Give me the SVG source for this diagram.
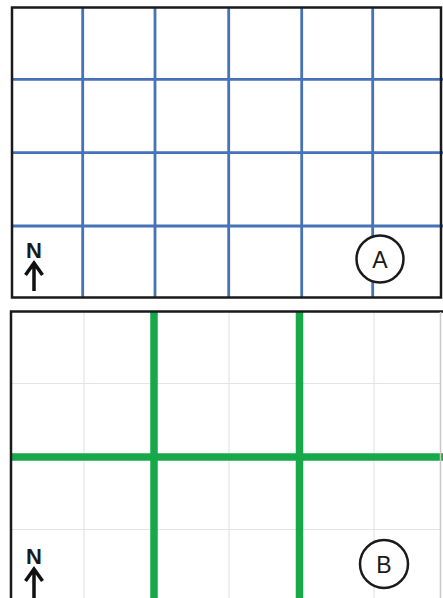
<svg xmlns="http://www.w3.org/2000/svg" width="443" height="598" viewBox="0 0 443 598">
<style>
.frame{fill:none;stroke:#1a1a1a;stroke-width:2.5}
.blue{stroke:#4672b8;stroke-width:2.8}
.faint{stroke:#e2e4ea;stroke-width:1.2}
.green{stroke:#17a84a;stroke-width:7.5}
.lbl{font-family:"Liberation Sans",Arial,sans-serif;fill:#1a1a1a}
.arrow{fill:none;stroke:#111;stroke-width:3.5}
.ring{fill:#fff;stroke:#1a1a1a;stroke-width:2.5}
</style>
<rect width="443" height="598" fill="#fff"/>
<g id="panelA">
<g id="gridA">
<line class="blue" x1="82.7" y1="8" x2="82.7" y2="297"/>
<line class="blue" x1="155" y1="8" x2="155" y2="297"/>
<line class="blue" x1="228.7" y1="8" x2="228.7" y2="297"/>
<line class="blue" x1="301.7" y1="8" x2="301.7" y2="297"/>
<line class="blue" x1="372.7" y1="8" x2="372.7" y2="297"/>
<line class="blue" x1="12" y1="79.3" x2="443" y2="79.3"/>
<line class="blue" x1="12" y1="152.7" x2="443" y2="152.7"/>
<line class="blue" x1="12" y1="226" x2="443" y2="226"/>
</g>
<path class="frame" d="M12,297.5 V7.5 H441 V297.5 Z"/>
<g id="northA">
<text class="lbl" x="34" y="257.5" font-size="22" font-weight="bold" text-anchor="middle">N</text>
<path class="arrow" d="M34,291 V263 M25.5,275 L34,263 L42.5,275"/>
</g>
<g id="labelA">
<circle class="ring" cx="380" cy="259" r="23.5"/>
<text class="lbl" x="380" y="267.5" font-size="23" text-anchor="middle">A</text>
</g>
</g>
<g id="panelB">
<g id="gridB">
<line class="faint" x1="84" y1="312" x2="84" y2="598"/>
<line class="faint" x1="229" y1="312" x2="229" y2="598"/>
<line class="faint" x1="374" y1="312" x2="374" y2="598"/>
<line class="faint" x1="12" y1="383.5" x2="441" y2="383.5"/>
<line class="faint" x1="12" y1="529.5" x2="441" y2="529.5"/>
</g>
<g id="roadsB">
<line class="green" x1="154" y1="312" x2="154" y2="598"/>
<line class="green" x1="299.5" y1="312" x2="299.5" y2="598"/>
<line class="green" x1="12" y1="457" x2="443" y2="457"/>
</g>
<path class="frame" d="M11,598 V311.5 H443"/>
<line x1="440.5" y1="312" x2="440.5" y2="598" stroke="#c8c8c8" stroke-width="1.5"/>
<g id="northB">
<text class="lbl" x="34" y="563.5" font-size="22" font-weight="bold" text-anchor="middle">N</text>
<path class="arrow" d="M34,598 V569 M25.5,581 L34,569 L42.5,581"/>
</g>
<g id="labelB">
<circle class="ring" cx="384" cy="564" r="24"/>
<text class="lbl" x="384" y="572.5" font-size="23" text-anchor="middle">B</text>
</g>
</g>
</svg>
